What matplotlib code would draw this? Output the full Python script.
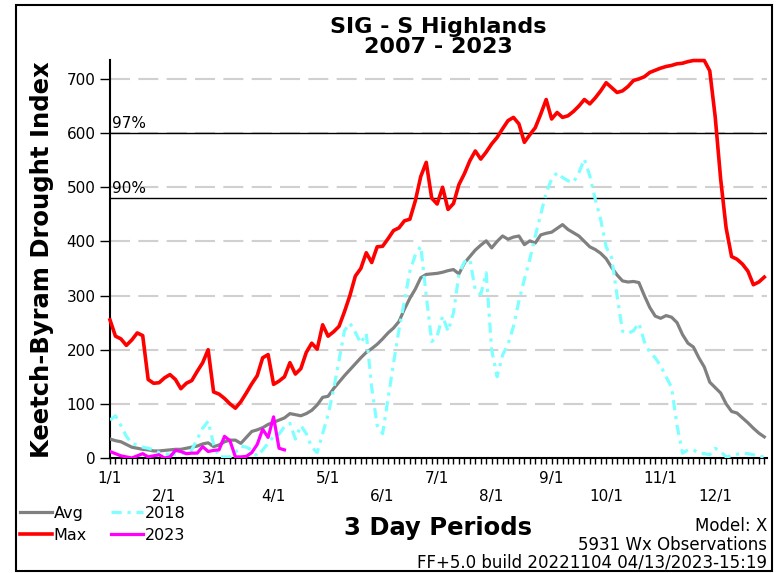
"""KBDI 3-day period chart, SIG - S Highlands."""
import numpy as np
import matplotlib
matplotlib.use('Agg')
import matplotlib.pyplot as plt
from matplotlib.patches import Rectangle

# -- DATA (one value per 3 day period, starting 1/1)
kbdi_avg = [35, 32, 30, 25, 20, 18, 16, 15, 13, 13,
            14, 15, 16, 16, 18, 20, 22, 26, 28, 21,
            24, 30, 33, 33, 27, 38, 49, 52, 56, 62,
            66, 70, 74, 82, 80, 78, 82, 88, 98, 112,
            114, 128, 140, 152, 163, 174, 185, 195, 202, 210,
            220, 231, 240, 252, 275, 295, 312, 333, 339, 340,
            341, 343, 346, 348, 340, 360, 372, 384, 393, 401,
            388, 400, 410, 404, 408, 410, 394, 401, 397, 412,
            415, 417, 424, 431, 422, 416, 410, 400, 390, 385,
            378, 368, 352, 338, 327, 325, 326, 324, 300, 278,
            262, 258, 263, 260, 250, 228, 212, 205, 185, 168,
            140, 130, 120, 100, 86, 83, 74, 65, 55, 46,
            39]
kbdi_max = [255, 225, 220, 208, 218, 231, 226, 145, 138, 139,
            148, 154, 145, 128, 138, 143, 160, 176, 200, 122,
            118, 110, 100, 92, 104, 120, 137, 152, 185, 191,
            136, 142, 150, 176, 155, 165, 195, 212, 201, 246,
            225, 233, 243, 270, 300, 336, 350, 379, 361, 390,
            391, 405, 420, 425, 438, 441, 475, 520, 546, 480,
            469, 500, 459, 470, 505, 525, 549, 567, 552, 565,
            580, 592, 608, 623, 629, 617, 583, 597, 610, 635,
            662, 626, 638, 629, 632, 640, 650, 662, 654, 665,
            678, 693, 684, 675, 678, 686, 697, 700, 704, 712,
            716, 720, 723, 725, 728, 729, 732, 734, 734, 734,
            715, 630, 515, 425, 372, 367, 358, 345, 320, 325,
            334]
kbdi_2018 = [70, 78, 60, 40, 27, 24, 20, 18, 15, 10,
             8, 6, 7, 8, 10, 15, 35, 55, 68, 25,
             2, 2, 2, 10, 22, 20, 15, 3, 15, 27,
             40, 44, 58, 64, 35, 60, 45, 20, 10, 45,
             80, 126, 180, 235, 249, 232, 212, 230, 130, 60,
             45, 110, 175, 237, 290, 345, 375, 391, 300, 215,
             225, 262, 234, 268, 340, 362, 367, 310, 302, 342,
             200, 150, 190, 210, 243, 290, 330, 367, 410, 450,
             490, 515, 527, 518, 512, 509, 527, 552, 521, 478,
             440, 390, 370, 300, 234, 230, 235, 249, 215, 195,
             185, 170, 150, 130, 60, 9, 15, 15, 9, 8,
             6, 18, 12, 2, 4, 7, 9, 8, 6, 3,
             2]
kbdi_2023 = [12, 8, 4, 2, 0, 4, 8, 2, 4, 6,
             0, 2, 14, 12, 8, 9, 9, 21, 12, 14,
             15, 40, 32, 2, 2, 3, 10, 25, 53, 38,
             76, 18, 15]

month_labels = ['1/1', '2/1', '3/1', '4/1', '5/1', '6/1',
                '7/1', '8/1', '9/1', '10/1', '11/1', '12/1']
month_periods = [0, 10, 19, 30, 40, 50, 60, 70, 81, 91, 101, 111]
pct_labels = ['97%', '90%']
pct_values = [600, 480]
notes = ['Model: X', '5931 Wx Observations',
         'FF+5.0 build 20221104 04/13/2023-15:19']


def main():
    n = np.arange(len(kbdi_avg))
    n23 = np.arange(len(kbdi_2023))

    fig = plt.figure(figsize=(7.79, 5.73), dpi=100)
    ax = fig.add_axes([0.1412, 0.2007, 0.8434, 0.6946])

    # -- GRID AND PERCENTILE LINES
    for v in range(100, 800, 100):
        ax.axhline(v, color='#d0d0d0', lw=1.5, dashes=(9.6, 4.0), zorder=1)
    for lab, v in zip(pct_labels, pct_values):
        ax.axhline(v, color='black', lw=1.0, zorder=2)
        ax.text(0.4, v + 4, lab, fontsize=11, ha='left', va='bottom', zorder=2)

    # -- SERIES
    ax.plot(n, kbdi_avg, color='#808080', lw=2.3, label='Avg', zorder=3)
    ax.plot(n, kbdi_max, color='#ff0000', lw=2.6, label='Max', zorder=4,
            clip_on=False)
    ax.plot(n, kbdi_2018, color='#7fffff', lw=2.3, label='2018', zorder=3,
            dashes=(3.2, 1.8, 1.0, 1.8))
    ax.plot(n23, kbdi_2023, color='#ff00ff', lw=2.3, label='2023', zorder=5)

    # -- AXES
    ax.set_xlim(0, 120.5)
    ax.set_ylim(0, 735)
    ax.spines['top'].set_visible(False)
    ax.spines['right'].set_visible(False)
    ax.spines['left'].set_linewidth(1.5)
    ax.spines['bottom'].set_linewidth(1.5)
    ax.set_yticks(range(0, 800, 100))
    ax.tick_params(axis='y', length=7, width=1, pad=3.5, labelsize=11)
    ax.set_xticks(month_periods)
    ax.set_xticklabels([lab if i % 2 == 0 else '\n' + lab
                        for i, lab in enumerate(month_labels)])
    ax.set_xticks(n, minor=True)
    ax.tick_params(axis='x', which='both', length=4.5, width=1, pad=5,
                   labelsize=11)

    # -- TEXT
    fig.text(0.5623, 0.9424, 'SIG - S Highlands', fontsize=16,
             fontweight='bold', ha='center', va='baseline')
    fig.text(0.5623, 0.908, '2007 - 2023', fontsize=16,
             fontweight='bold', ha='center', va='baseline')
    fig.text(0.054, 0.546, 'Keetch-Byram Drought Index', fontsize=17.5,
             fontweight='bold', rotation=90, ha='center', va='center')
    fig.text(0.5623, 0.066, '3 Day Periods', fontsize=17.5,
             fontweight='bold', ha='center', va='baseline')
    for i, t in enumerate(notes):
        fig.text(0.985, 0.073 - i * 0.032, t, fontsize=12, ha='right',
                 va='baseline')

    fig.legend(loc='upper left', bbox_to_anchor=(0.026, 0.117), ncol=2,
               frameon=False, fontsize=11.5, handlelength=2.0,
               handletextpad=0.1, columnspacing=1.5, labelspacing=0.42,
               borderpad=0.0, borderaxespad=0.0)

    fig.patches.append(Rectangle((0.0205, 0.0035), 0.97, 0.9878,
                                 transform=fig.transFigure, fill=False,
                                 edgecolor='black', lw=1.5))

    fig.savefig('out.png', dpi=100)


main()
